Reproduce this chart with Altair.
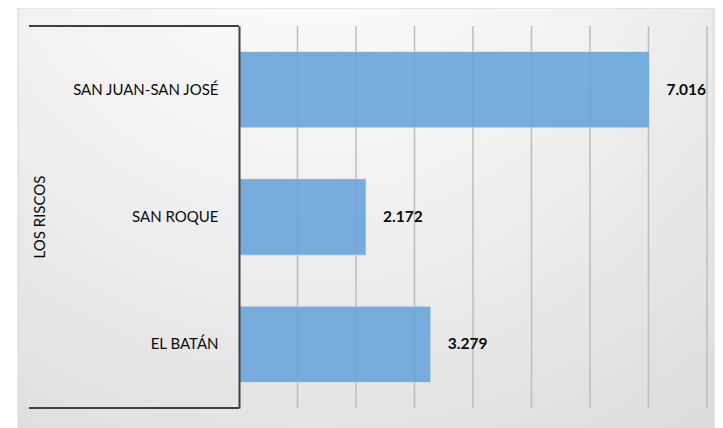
import altair as alt
import pandas as pd

# ---- data ----
categories = ["SAN JUAN-SAN JOSÉ", "SAN ROQUE", "EL BATÁN"]
values = [7.016, 2.172, 3.279]
group_label = "LOS RISCOS"
grid_ticks = [1, 2, 3, 4, 5, 6, 7, 8]
x_max = 8

df = pd.DataFrame({"cat": categories, "val": values})
grid_df = pd.DataFrame({"g": grid_ticks})

W, H = 468, 382
FONT = "Lato"
FS = 15
FS_VAL = 15.5

x_scale = alt.Scale(domain=[0, x_max], nice=False, zero=True)
y_scale = alt.Scale(domain=categories, paddingInner=0.4, paddingOuter=0.2)

bg = alt.Chart(alt.Data(values=[{}])).mark_rect(
    color=alt.Gradient(
        gradient="radial",
        stops=[alt.GradientStop(color="#ffffff", offset=0),
               alt.GradientStop(color="#f1f1f1", offset=0.45),
               alt.GradientStop(color="#d9d9d9", offset=1)],
        x1=0.42, y1=0.0, x2=0.42, y2=0.0, r1=0, r2=1.05,
    ),
    stroke="#d6d6d6", strokeWidth=1,
).encode(
    x=alt.value(-221), x2=alt.value(W + 7), y=alt.value(-18), y2=alt.value(H + 22)
)

grid = alt.Chart(grid_df).mark_rule(color="#bdbdbd", strokeWidth=1.5).encode(
    x=alt.X("g:Q", scale=x_scale, axis=None)
)

bars = alt.Chart(df).mark_bar(
    color="#6aa5da", opacity=0.9, stroke="#ffffff", strokeOpacity=0.5, strokeWidth=1
).encode(
    x=alt.X("val:Q", scale=x_scale, axis=None),
    y=alt.Y("cat:N", scale=y_scale, sort=categories, title=None,
            axis=alt.Axis(domainColor="#404040", domainWidth=2, ticks=False,
                          labelFont=FONT, labelFontSize=FS, labelColor="#0a0a0a",
                          labelPadding=21, grid=False, labelLimit=300, zindex=1)),
)

texts = alt.Chart(df).mark_text(
    align="left", baseline="middle", dx=17, font=FONT, fontSize=FS_VAL,
    fontWeight="bold", color="#0a0a0a",
).encode(
    x=alt.X("val:Q", scale=x_scale),
    y=alt.Y("cat:N", scale=y_scale, sort=categories),
    text=alt.Text("val:Q", format=".3f"),
)

frame_top = alt.Chart(alt.Data(values=[{}])).mark_rule(color="#404040", strokeWidth=2).encode(
    x=alt.value(-210), x2=alt.value(0), y=alt.value(0)
)
frame_bottom = alt.Chart(alt.Data(values=[{}])).mark_rule(color="#404040", strokeWidth=2).encode(
    x=alt.value(-210), x2=alt.value(0), y=alt.value(H)
)

group = alt.Chart(alt.Data(values=[{"t": group_label}])).mark_text(
    angle=270, align="center", baseline="middle", font=FONT, fontSize=FS, color="#0a0a0a"
).encode(
    x=alt.value(-199), y=alt.value(H / 2), text="t:N"
)

chart = alt.layer(bg, grid, bars, texts, frame_top, frame_bottom, group).properties(
    width=W, height=H,
    autosize=alt.AutoSizeParams(type="none"),
    padding={"left": 231, "top": 18, "right": 8, "bottom": 20},
).configure_view(stroke=None)

chart.save("out.html", embed_options={"renderer": "svg", "actions": False})
